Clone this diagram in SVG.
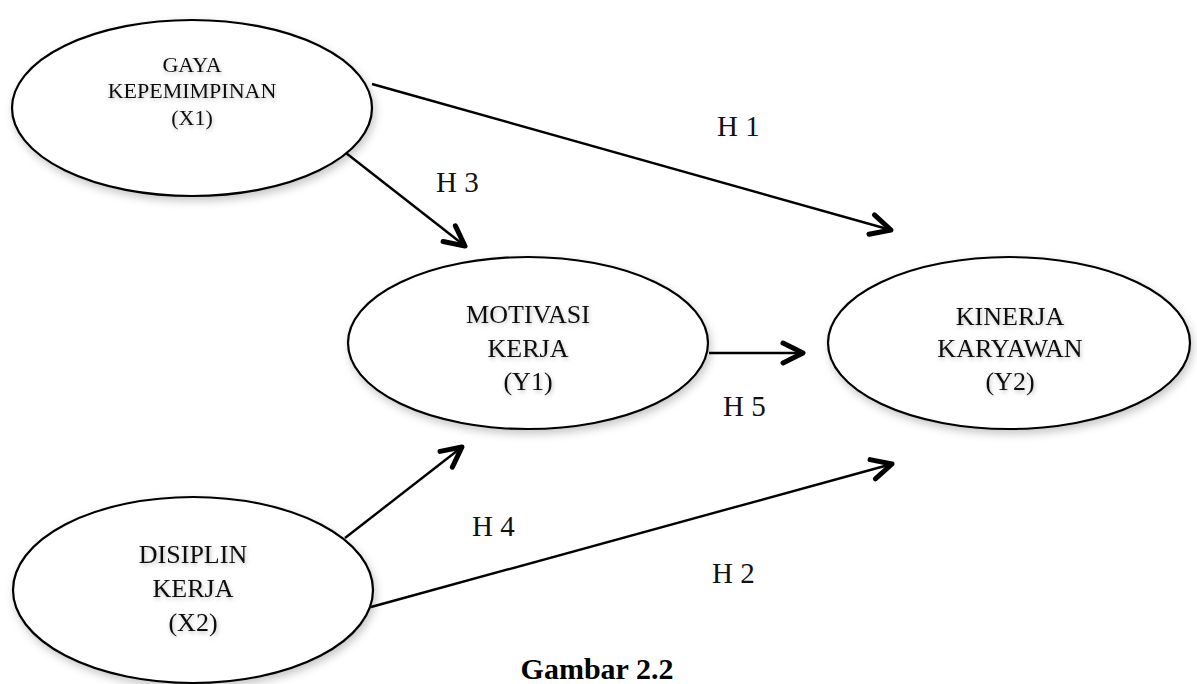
<svg xmlns="http://www.w3.org/2000/svg" width="1197" height="684" viewBox="0 0 1197 684">
<style>
.node ellipse{fill:#fff;stroke:#000;stroke-width:2.2;filter:url(#sh)}
.node text{font-family:"Liberation Serif","Times New Roman",serif;fill:#111;text-anchor:middle;filter:url(#tsh)}
.t22{font-size:22px}
.t26{font-size:26px}
.lab{font-family:"Liberation Serif","Times New Roman",serif;font-size:29px;fill:#111}
.conn line{stroke:#000;stroke-width:2.4;marker-end:url(#ah)}
.cap{font-family:"Liberation Serif","Times New Roman",serif;font-size:30px;font-weight:bold;text-anchor:middle;fill:#000}
</style>
<defs>
<filter id="sh" x="-10%" y="-10%" width="125%" height="130%">
<feDropShadow dx="2" dy="4" stdDeviation="4" flood-color="#000" flood-opacity="0.22"/>
</filter>
<filter id="tsh" x="-10%" y="-20%" width="130%" height="150%">
<feDropShadow dx="1" dy="2" stdDeviation="2" flood-color="#000" flood-opacity="0.25"/>
</filter>
<marker id="ah" markerUnits="userSpaceOnUse" markerWidth="40" markerHeight="40" viewBox="-30 -20 40 40" refX="0" refY="0" orient="auto">
<path d="M-20,-10 L0,0 L-20,10" fill="none" stroke="#000" stroke-width="5" stroke-linecap="round" stroke-linejoin="round"/>
</marker>
</defs>
<rect width="1197" height="684" fill="#fff"/>
<g id="connectors" class="conn">
<line x1="372" y1="84" x2="891" y2="230"/>
<line x1="346" y1="153" x2="465" y2="246"/>
<line x1="709" y1="353" x2="803" y2="353"/>
<line x1="345" y1="538" x2="462" y2="447"/>
<line x1="371" y1="607" x2="892" y2="464"/>
</g>
<g id="gaya" class="node">
<ellipse cx="192" cy="108" rx="180" ry="88"/>
<text class="t22" x="192" y="72">GAYA</text>
<text class="t22" x="192" y="98">KEPEMIMPINAN</text>
<text class="t22" x="192" y="125">(X1)</text>
</g>
<g id="motivasi" class="node">
<ellipse cx="528" cy="343" rx="180" ry="86"/>
<text class="t26" x="528" y="323">MOTIVASI</text>
<text class="t26" x="528" y="357">KERJA</text>
<text class="t26" x="528" y="390">(Y1)</text>
</g>
<g id="kinerja" class="node">
<ellipse cx="1009" cy="343" rx="181" ry="86"/>
<text class="t26" x="1010" y="325">KINERJA</text>
<text class="t26" x="1010" y="357">KARYAWAN</text>
<text class="t26" x="1010" y="390">(Y2)</text>
</g>
<g id="disiplin" class="node">
<ellipse cx="193" cy="590" rx="180" ry="93"/>
<text class="t26" x="193" y="563">DISIPLIN</text>
<text class="t26" x="193" y="597">KERJA</text>
<text class="t26" x="193" y="631">(X2)</text>
</g>
<g id="labels">
<text class="lab" x="717" y="136">H 1</text>
<text class="lab" x="436" y="192">H 3</text>
<text class="lab" x="723" y="416">H 5</text>
<text class="lab" x="472" y="536">H 4</text>
<text class="lab" x="712" y="583">H 2</text>
</g>
<text class="cap" x="597" y="679">Gambar 2.2</text>
</svg>
